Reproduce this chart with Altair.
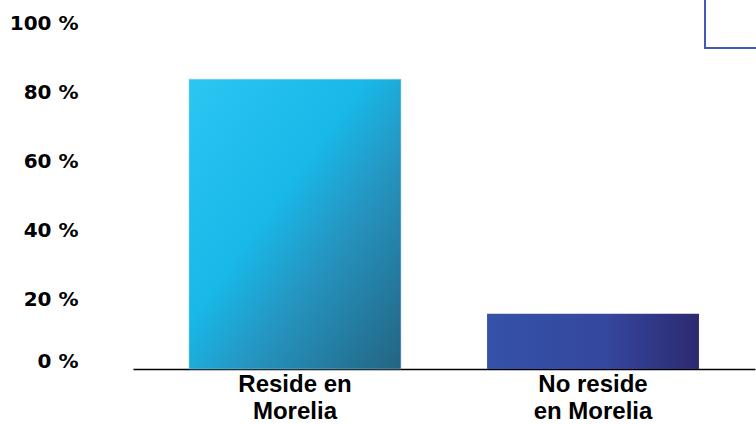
import altair as alt
import pandas as pd

categories = ["Reside en Morelia", "No reside en Morelia"]
values = [84, 16]
y_ticks = [0, 20, 40, 60, 80, 100]

df = pd.DataFrame({"cat": categories, "val": values})

x_enc = alt.X(
    "cat:N",
    sort=categories,
    scale=alt.Scale(paddingInner=0.289, paddingOuter=0.188),
    axis=alt.Axis(
        title=None,
        labelAngle=0,
        labelExpr="datum.value == 'Reside en Morelia' ? ['Reside en', 'Morelia'] : ['No reside', 'en Morelia']",
        labelFont="Liberation Sans",
        labelFontSize=24,
        labelFontWeight="bold",
        labelColor="#000000",
        labelLineHeight=27,
        labelPadding=3,
        ticks=False,
        domain=True,
        domainColor="#000000",
        domainWidth=1.5,
        grid=False,
    ),
)
y_enc = alt.Y(
    "val:Q",
    scale=alt.Scale(domain=[0, 100], nice=False),
    axis=alt.Axis(
        title=None,
        values=y_ticks,
        labelExpr="datum.value + ' %'",
        labelFont="DejaVu Sans",
        labelFontSize=20,
        labelFontWeight="bold",
        labelColor="#000000",
        labelPadding=55,
        labelOffset={"condition": {"test": "datum.value == 0", "value": -8}, "value": -1},
        ticks=False,
        domain=False,
        grid=False,
    ),
)

grad1 = alt.Gradient(
    gradient="linear",
    x1=0, y1=0, x2=1, y2=1,
    stops=[
        alt.GradientStop(color="#2CC6F2", offset=0),
        alt.GradientStop(color="#18B8E8", offset=0.42),
        alt.GradientStop(color="#2596C2", offset=0.62),
        alt.GradientStop(color="#236482", offset=1),
    ],
)
grad2 = alt.Gradient(
    gradient="linear",
    x1=0, y1=0, x2=1, y2=0,
    stops=[
        alt.GradientStop(color="#3452A8", offset=0),
        alt.GradientStop(color="#35479F", offset=0.55),
        alt.GradientStop(color="#2C2A70", offset=1),
    ],
)

base = alt.Chart(df)
bar1 = base.transform_filter(alt.datum.cat == categories[0]).mark_bar(
    fill=grad1, stroke="#8EC4E0", strokeWidth=0.5
).encode(x=x_enc, y=y_enc)
bar2 = base.transform_filter(alt.datum.cat == categories[1]).mark_bar(
    fill=grad2
).encode(x=x_enc, y=y_enc)

box = alt.Chart(pd.DataFrame({"a": [0]})).mark_rect(
    fill=None, stroke="#3F5BB5", strokeWidth=2, clip=False
).encode(x=alt.value(572), x2=alt.value(660), y=alt.value(-40), y2=alt.value(24))

chart = alt.layer(bar1, bar2, box).properties(
    width=622,
    height=345,
    background="#ffffff",
    autosize=alt.AutoSizeParams(type="none"),
    padding={"left": 133, "top": 24, "right": 1, "bottom": 55},
).configure_view(strokeWidth=0, strokeOpacity=0)

chart.save("out.html", embed_options={"renderer": "svg", "actions": False})
